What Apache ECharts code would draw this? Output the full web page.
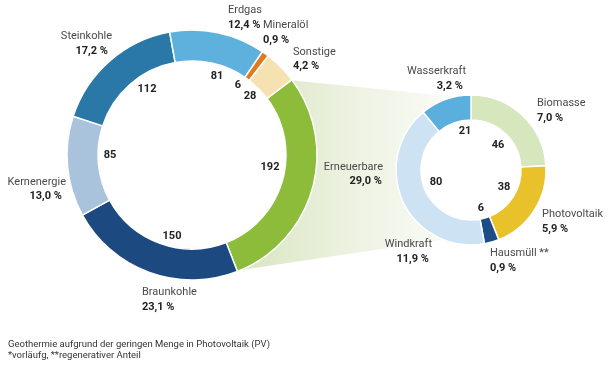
<!DOCTYPE html>
<html>
<head>
<meta charset="utf-8">
<script src="https://cdn.jsdelivr.net/npm/echarts@6/dist/echarts.min.js"></script>
<style>
html,body{margin:0;padding:0;background:#fff;}
#chart{width:609px;height:365px;}
</style>
</head>
<body>
<div id="chart"></div>
<script>
// ---- data ----
const bigCats = ['Erneuerbare', 'Braunkohle', 'Kernenergie', 'Steinkohle', 'Erdgas', 'Mineralöl', 'Sonstige'];
const bigValues = [192, 150, 85, 112, 81, 6, 28];
const bigPct = ['29,0 %', '23,1 %', '13,0 %', '17,2 %', '12,4 %', '0,9 %', '4,2 %'];

const smallCats = ['Biomasse', 'Photovoltaik', 'Hausmüll **', 'Windkraft', 'Wasserkraft'];
const smallValues = [46, 38, 6, 80, 21];
const smallPct = ['7,0 %', '5,9 %', '0,9 %', '11,9 %', '3,2 %'];

const footnotes = [
  'Geothermie aufgrund der geringen Menge in Photovoltaik (PV)',
  '*vorläufg, **regenerativer Anteil'
];

// ---- styles / layout ----
const bigColors = ['#8cbc3a', '#1c4a80', '#a9c3dd', '#2a78a8', '#5eb1dd', '#de7b1e', '#f5e2b0'];
const smallColors = ['#d6e6bd', '#e9c22b', '#1d4d86', '#cde2f3', '#5aafdc'];

const BIG = { cx: 192, cy: 155, r0: 94, r: 125, start: 37 };
const SMALL = { cx: 471, cy: 170, r0: 50, r: 75, start: 90 };

// outer label anchors: [nameX, nameY, pctX, pctY, align]
const bigLabelPos = [
  [383, 167, 382, 181, 'right'], [142, 292, 142, 307, 'left'], [66, 182, 62, 196, 'right'],
  [112, 36, 108, 51, 'right'], [228, 10, 228, 25, 'left'], [263, 25, 263, 40, 'left'],
  [293, 52, 293, 66, 'left']
];
const smallLabelPos = [
  [537, 103, 537, 118, 'left'], [542, 214, 542, 229, 'left'], [490, 253, 490, 268, 'left'],
  [432, 244, 429, 259, 'right'], [466, 71, 463, 86, 'right']
];
// value label centres inside the rings
const bigValuePos = [[270, 167], [172, 236], [110, 155], [147, 89], [217, 76], [238, 85], [250, 96]];
const smallValuePos = [[498, 145], [504, 187], [481, 208], [436, 182], [465, 131]];

const FONT = 'Roboto';

function ringData(cats, vals, colors) {
  return cats.map((n, i) => ({ name: n, value: vals[i], itemStyle: { color: colors[i] } }));
}

// connector polygon traced along both outer arcs
function connectorPoints() {
  const total = bigValues.reduce((a, b) => a + b, 0);
  const a1 = BIG.start;
  const a2 = BIG.start - bigValues[0] / total * 360;
  const rad = d => d * Math.PI / 180;
  const pts = [];
  const pt = (c, R, a) => [c.cx + R * Math.cos(rad(a)), c.cy - R * Math.sin(rad(a))];
  pts.push(pt(BIG, BIG.r - 1, a1));
  for (let a = 100; a <= 250; a += 5) pts.push(pt(SMALL, SMALL.r - 1, a));
  for (let a = a2; a <= a1; a += 3) pts.push(pt(BIG, BIG.r - 1, a));
  pts.push(pt(BIG, BIG.r - 1, a1));
  return pts;
}

function outerLabels(cats, pcts, pos) {
  const els = [];
  cats.forEach((n, i) => {
    const p = pos[i];
    els.push({ type: 'text', x: p[0], y: p[1], silent: true, z: 10,
      style: { text: n, fontFamily: FONT, fontSize: 11, fill: '#4a4a4a', align: p[4], verticalAlign: 'middle' } });
    els.push({ type: 'text', x: p[2], y: p[3], silent: true, z: 10,
      style: { text: pcts[i], fontFamily: FONT, fontSize: 11, fontWeight: 'bold', fill: '#222', align: p[4], verticalAlign: 'middle' } });
  });
  return els;
}

function valueLabels(vals, pos) {
  return vals.map((v, i) => ({ type: 'text', x: pos[i][0], y: pos[i][1], silent: true, z: 10,
    style: { text: String(v), fontFamily: FONT, fontSize: 11, fontWeight: 'bold', fill: '#222', align: 'center', verticalAlign: 'middle' } }));
}

const chart = echarts.init(document.getElementById('chart'), null, { renderer: 'canvas' });

const ringCommon = {
  type: 'pie',
  clockwise: true,
  emphasis: { disabled: true },
  silent: true,
  itemStyle: { borderColor: '#fff', borderWidth: 1.5 },
  labelLine: { show: false },
  label: { show: false },
  animation: false
};

chart.setOption({
  backgroundColor: '#fff',
  animation: false,
  graphic: [
    {
      type: 'polygon',
      z: -10,
      shape: { points: connectorPoints() },
      style: {
        fill: new echarts.graphic.LinearGradient(0, 0, 1, 0, [
          { offset: 0, color: '#d8e5bf' },
          { offset: 0.55, color: '#eef3e3' },
          { offset: 1, color: '#fbfcf8' }
        ])
      },
      silent: true
    },
    { type: 'text', x: 8, y: 345, style: { text: footnotes[0], fontFamily: FONT, fontSize: 9.5, fill: '#333', verticalAlign: 'middle' } },
    { type: 'text', x: 8, y: 356, style: { text: footnotes[1], fontFamily: FONT, fontSize: 9.5, fill: '#333', verticalAlign: 'middle' } }
  ].concat(
    outerLabels(bigCats, bigPct, bigLabelPos),
    outerLabels(smallCats, smallPct, smallLabelPos),
    valueLabels(bigValues, bigValuePos),
    valueLabels(smallValues, smallValuePos)
  ),
  series: [
    Object.assign({}, ringCommon, {
      name: 'big',
      center: [BIG.cx, BIG.cy], radius: [BIG.r0, BIG.r], startAngle: BIG.start,
      data: ringData(bigCats, bigValues, bigColors)
    }),
    Object.assign({}, ringCommon, {
      name: 'small',
      center: [SMALL.cx, SMALL.cy], radius: [SMALL.r0, SMALL.r], startAngle: SMALL.start,
      data: ringData(smallCats, smallValues, smallColors)
    })
  ]
});
</script>
</body>
</html>
